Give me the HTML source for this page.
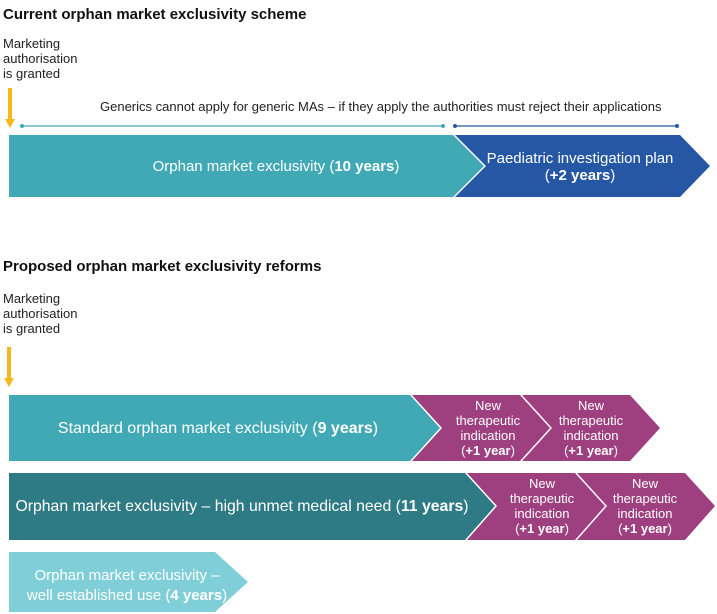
<!DOCTYPE html>
<html><head><style>
html,body{margin:0;padding:0;background:#fff;}
svg{display:block;font-family:"Liberation Sans",Arial,sans-serif;}
</style></head><body>
<svg width="717" height="614" viewBox="0 0 717 614" xmlns="http://www.w3.org/2000/svg">
<text x="3" y="19" font-size="15" font-weight="bold" fill="#111">Current orphan market exclusivity scheme</text>
<text font-size="13" fill="#222"><tspan x="3" y="48">Marketing</tspan><tspan x="3" y="63">authorisation</tspan><tspan x="3" y="78">is granted</tspan></text>
<rect x="8" y="88" width="4" height="32" fill="#f5b91e"/><polygon points="5,119 15,119 10,128" fill="#f5b91e"/>
<text x="100" y="111" font-size="13" fill="#222">Generics cannot apply for generic MAs – if they apply the authorities must reject their applications</text>
<line x1="22" y1="126" x2="443" y2="126" stroke="#41a9b5" stroke-width="1.2"/>
<circle cx="22" cy="126" r="2" fill="#41a9b5"/><circle cx="443" cy="126" r="2" fill="#41a9b5"/>
<line x1="455" y1="126" x2="677" y2="126" stroke="#2557a4" stroke-width="1.2"/>
<circle cx="455" cy="126" r="2" fill="#2557a4"/><circle cx="677" cy="126" r="2" fill="#2557a4"/>
<polygon points="9,135 453,135 484,166 453,197 9,197" fill="#41a9b5"/>
<polygon points="455,135 680,135 710,166 680,197 455,197 486,166" fill="#2557a4"/>
<text x="276" y="171" font-size="15" fill="#fff" text-anchor="middle">Orphan market exclusivity (<tspan font-weight="bold">10 years</tspan>)</text>
<text x="580" y="163" font-size="15" fill="#fff" text-anchor="middle">Paediatric investigation plan</text>
<text x="580" y="180" font-size="15" fill="#fff" text-anchor="middle">(<tspan font-weight="bold">+2 years</tspan>)</text>

<text x="3" y="271" font-size="15" font-weight="bold" fill="#111">Proposed orphan market exclusivity reforms</text>
<text font-size="13" fill="#222"><tspan x="3" y="303">Marketing</tspan><tspan x="3" y="318">authorisation</tspan><tspan x="3" y="333">is granted</tspan></text>
<rect x="7" y="347" width="4" height="32" fill="#f5b91e"/><polygon points="4,378 14,378 9,387" fill="#f5b91e"/>

<polygon points="9,395 410,395 440,428 410,461 9,461" fill="#41a9b5"/>
<polygon points="412,395 520,395 550,428 520,461 412,461 442,428" fill="#9e3f7f"/>
<polygon points="522,395 630,395 660,428 630,461 522,461 552,428" fill="#9e3f7f"/>
<text x="218" y="433" font-size="16" fill="#fff" text-anchor="middle">Standard orphan market exclusivity (<tspan font-weight="bold">9 years</tspan>)</text>
<g font-size="13" fill="#fff" text-anchor="middle">
<text x="488" y="410">New</text><text x="488" y="425">therapeutic</text><text x="488" y="440">indication</text><text x="488" y="455">(<tspan font-weight="bold">+1 year</tspan>)</text>
<text x="591" y="410">New</text><text x="591" y="425">therapeutic</text><text x="591" y="440">indication</text><text x="591" y="455">(<tspan font-weight="bold">+1 year</tspan>)</text>
</g>

<polygon points="9,473 465,473 495,506 465,540 9,540" fill="#2f7b85"/>
<polygon points="467,473 575,473 605,506 575,540 467,540 497,506" fill="#9e3f7f"/>
<polygon points="577,473 685,473 715,506 685,540 577,540 607,506" fill="#9e3f7f"/>
<text x="242" y="511" font-size="15.8" fill="#fff" text-anchor="middle">Orphan market exclusivity – high unmet medical need (<tspan font-weight="bold">11 years</tspan>)</text>
<g font-size="13" fill="#fff" text-anchor="middle">
<text x="542" y="488">New</text><text x="542" y="503">therapeutic</text><text x="542" y="518">indication</text><text x="542" y="533">(<tspan font-weight="bold">+1 year</tspan>)</text>
<text x="645" y="488">New</text><text x="645" y="503">therapeutic</text><text x="645" y="518">indication</text><text x="645" y="533">(<tspan font-weight="bold">+1 year</tspan>)</text>
</g>

<polygon points="9,552 215,552 248,582 215,612 9,612" fill="#80cfd8"/>
<text x="127" y="580" font-size="15" fill="#fff" text-anchor="middle">Orphan market exclusivity –</text>
<text x="127" y="600" font-size="15" fill="#fff" text-anchor="middle">well established use (<tspan font-weight="bold">4 years</tspan>)</text>
</svg>
</body></html>
